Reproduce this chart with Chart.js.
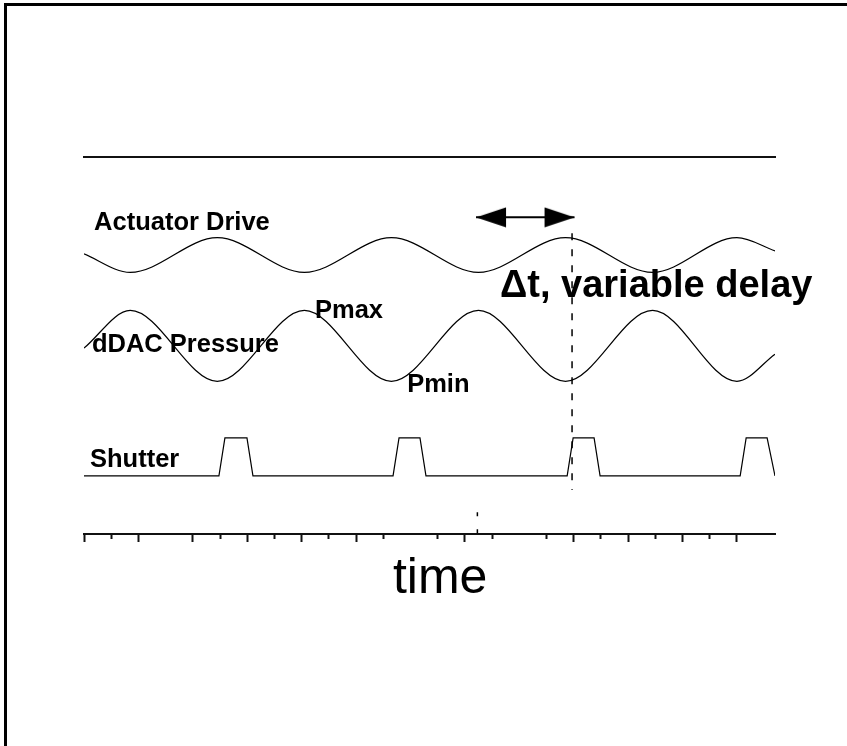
<!DOCTYPE html>
<html>
<head>
<meta charset="utf-8">
<script src="https://cdn.jsdelivr.net/npm/chart.js@4.4.0/dist/chart.umd.min.js"></script>
<style>
  html, body { margin: 0; padding: 0; background: #fff; }
  #wrap { position: relative; width: 847px; height: 746px; overflow: hidden; }
  #frame { position: absolute; left: 4px; top: 3px; right: -10px; bottom: -10px;
           border-left: 3px solid #000; border-top: 3px solid #000; }
  canvas { position: absolute; left: 0; top: 0; }
</style>
</head>
<body>
<div id="wrap">
  <div id="frame"></div>
  <canvas id="timing" width="847" height="746"></canvas>
</div>
<script>
// timing diagram: actuator drive, dDAC pressure and shutter against time
// x unit = one tick on the time axis, y unit = percent of plot height

// wave turning points (start, troughs/peaks, end); monotone curve joins them
const WAVE_T   = [0, 1.7, 4.9, 8.1, 11.3, 14.5, 17.7, 20.9, 24.0, 25.4];
const ACTUATOR = [74.3, 69.4, 78.6, 69.4, 78.6, 69.4, 78.6, 69.4, 78.6, 75.1];
const PRESSURE = [49.3, 59.3, 40.5, 59.3, 40.5, 59.3, 40.5, 59.3, 40.5, 47.7];

// shutter pulse corners
const SHUTTER_T = [0, 4.96, 5.18, 5.99, 6.21, 11.36, 11.58, 12.35, 12.57, 17.76, 17.98, 18.75, 18.97, 24.12, 24.34, 25.11, 25.40];
const SHUTTER   = [15.4, 15.4, 25.5, 25.5, 15.4, 15.4, 25.5, 25.5, 15.4, 15.4, 25.5, 25.5, 15.4, 15.4, 25.5, 25.5, 15.4];

// dashed marker lines and the delay arrow
const DELAY_T  = [17.94, 17.94];
const DELAY_Y  = [79.8, 11.7];
const ORIGIN_T = [14.46, 14.46];
const ORIGIN_Y = [5.8, 0];
const ARROW_T  = [14.41, 18.03];
const ARROW_Y  = [84.0, 84.0];

// time axis ticks
const TICKS_LONG  = [0, 2, 4, 6, 8, 10, 14, 18, 20, 22, 24];
const TICKS_SHORT = [1, 5, 7, 9, 11, 13, 15, 17, 19, 21, 23];
const T_MAX = 25.4;

const BOLD = 'bold 25.5px "Liberation Sans", Arial, sans-serif';
const LABELS = [
  { text: 'Actuator Drive', t: 0.37, v: 80.6, font: BOLD },
  { text: 'dDAC Pressure', t: 0.29, v: 48.3, font: BOLD },
  { text: 'Pmax', t: 8.49, v: 57.3, font: BOLD },
  { text: 'Pmin', t: 11.88, v: 37.7, font: BOLD },
  { text: 'Shutter', t: 0.22, v: 17.8, font: BOLD },
  { text: '\u0394t, variable delay', t: 15.29, v: 62.9, font: 'bold 38px "Liberation Sans", Arial, sans-serif' },
  { text: 'time', t: 13.09, v: -15.6, font: '50px "Liberation Sans", Arial, sans-serif', align: 'center' }
];

function pts(xs, ys) {
  return xs.map((x, i) => ({ x: x, y: ys[i] }));
}

// filled arrow head with its tip at the canvas centre
function arrowHead(dir) {
  const c = document.createElement('canvas');
  c.width = 62; c.height = 21;
  const g = c.getContext('2d');
  g.fillStyle = '#000';
  g.beginPath();
  g.moveTo(31, 10.5);
  if (dir > 0) { g.lineTo(1, 0.5); g.lineTo(1, 20.5); }
  else { g.lineTo(61, 0.5); g.lineTo(61, 20.5); }
  g.closePath();
  g.fill();
  return c;
}

const textPlugin = {
  id: 'sketchText',
  afterDatasetsDraw(chart) {
    const { ctx, scales } = chart;
    ctx.save();
    ctx.fillStyle = '#000';
    ctx.textBaseline = 'alphabetic';
    LABELS.forEach(l => {
      ctx.font = l.font;
      ctx.textAlign = l.align || 'left';
      ctx.fillText(l.text, scales.x.getPixelForValue(l.t), scales.y.getPixelForValue(l.v));
    });
    ctx.restore();
  }
};

const thin = { borderColor: '#000', borderWidth: 1.2, pointRadius: 0, fill: false };

new Chart(document.getElementById('timing'), {
  type: 'line',
  data: {
    datasets: [
      Object.assign({ label: 'Actuator Drive', data: pts(WAVE_T, ACTUATOR), cubicInterpolationMode: 'monotone' }, thin),
      Object.assign({ label: 'dDAC Pressure', data: pts(WAVE_T, PRESSURE), cubicInterpolationMode: 'monotone' }, thin),
      Object.assign({ label: 'Shutter', data: pts(SHUTTER_T, SHUTTER), tension: 0 }, thin),
      Object.assign({ label: 'delay', data: pts(DELAY_T, DELAY_Y), borderDash: [7, 9] }, thin, { borderWidth: 1.5 }),
      Object.assign({ label: 'origin', data: pts(ORIGIN_T, ORIGIN_Y), borderDash: [4, 13] }, thin, { borderWidth: 1.5 }),
      {
        label: 'arrow', data: pts(ARROW_T, ARROW_Y),
        borderColor: '#000', borderWidth: 2,
        pointRadius: 1, pointStyle: [arrowHead(-1), arrowHead(1)]
      }
    ]
  },
  options: {
    responsive: false,
    animation: false,
    events: [],
    layout: { padding: { left: 84, right: 72, top: 157, bottom: 204 } },
    plugins: { legend: { display: false }, tooltip: { enabled: false } },
    scales: {
      x: {
        type: 'linear', position: 'bottom', min: 0, max: T_MAX,
        afterBuildTicks: s => {
          s.ticks = TICKS_LONG.concat(TICKS_SHORT).sort((a, b) => a - b).map(v => ({ value: v }));
        },
        ticks: { display: false },
        grid: {
          display: true, drawOnChartArea: false, drawTicks: true,
          tickLength: 8, tickWidth: 2, tickColor: '#111',
          tickBorderDash: c => (c.tick && TICKS_SHORT.includes(c.tick.value)) ? [4, 20] : []
        },
        border: { display: true, color: '#111', width: 2 }
      },
      xTop: {
        type: 'linear', position: 'top', min: 0, max: T_MAX,
        ticks: { display: false },
        grid: { display: false, drawTicks: false },
        border: { display: true, color: '#111', width: 2 }
      },
      y: { type: 'linear', min: 0, max: 100, display: false }
    }
  },
  plugins: [textPlugin]
});
</script>
</body>
</html>
